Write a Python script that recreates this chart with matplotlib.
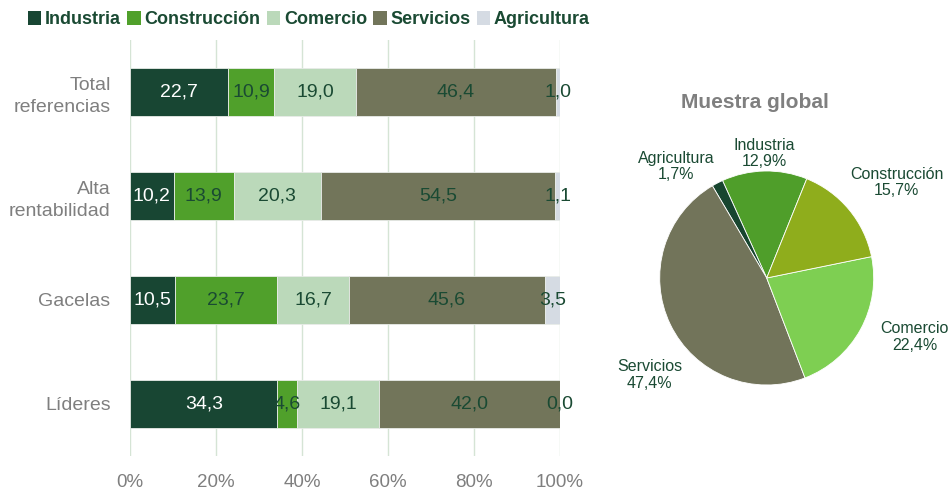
import matplotlib
matplotlib.use("Agg")
import matplotlib.pyplot as plt
import numpy as np
from matplotlib.patches import Patch

plt.rcParams['font.family'] = ['Liberation Sans', 'DejaVu Sans']

# ---- data ----
groups = ["Total\nreferencias", "Alta\nrentabilidad", "Gacelas", "Líderes"]
sectors = ["Industria", "Construcción", "Comercio", "Servicios", "Agricultura"]
industria = [22.7, 10.2, 10.5, 34.3]
construccion = [10.9, 13.9, 23.7, 4.6]
comercio = [19.0, 20.3, 16.7, 19.1]
servicios = [46.4, 54.5, 45.6, 42.0]
agricultura = [1.0, 1.1, 3.5, 0.0]
xticks = [0, 20, 40, 60, 80, 100]
xtick_labels = ["0%", "20%", "40%", "60%", "80%", "100%"]

pie_title = "Muestra global"
pie_labels = ["Industria", "Agricultura", "Servicios", "Comercio", "Construcción"]
pie_values = [12.9, 1.7, 47.4, 22.4, 15.7]

# ---- styles ----
bar_colors = ["#184633", "#50a02b", "#bbd9ba", "#72755a", "#d5dbe3"]
pie_colors = ["#4f9e2a", "#17452f", "#72745a", "#7ecf52", "#8fad1c"]
dark = "#1a4a33"
grey = "#7f7f7f"

fig = plt.figure(figsize=(9.51, 4.93), dpi=100)

# ---- stacked bar ----
ax = fig.add_axes([130 / 951, 37 / 493, 430 / 951, 416 / 493])
series = [industria, construccion, comercio, servicios, agricultura]
y = np.arange(len(groups))
left = np.zeros(len(groups))
for i, vals in enumerate(series):
    vals = np.array(vals)
    ax.barh(y, vals, left=left, height=0.46, color=bar_colors[i],
            edgecolor="#e8ece8", linewidth=0.6, zorder=3)
    for j, v in enumerate(vals):
        txt = f"{v:.1f}".replace(".", ",")
        ax.text(left[j] + v / 2, y[j], txt, ha="center", va="center",
                fontsize=14, color="white" if i == 0 else dark, zorder=4)
    left += vals

ax.set_xlim(0, 100)
ax.set_ylim(len(groups) - 0.5, -0.5)
ax.set_yticks(y)
ax.set_yticklabels(groups, fontsize=14, color=grey, linespacing=1.35)
ax.set_xticks(xticks)
ax.set_xticklabels(xtick_labels, fontsize=13.5, color=grey)
ax.tick_params(axis="both", length=0)
ax.tick_params(axis="x", pad=13)
ax.tick_params(axis="y", pad=14)
for s in ax.spines.values():
    s.set_visible(False)
ax.grid(axis="x", color="#d5e4d5", linewidth=1, zorder=0)
ax.set_axisbelow(True)

# ---- legend ----
handles = [Patch(facecolor=c, edgecolor="none") for c in bar_colors]
leg = fig.legend(handles, sectors, loc="upper left", bbox_to_anchor=(0.012, 1.01),
                 ncol=5, frameon=False, handlelength=0.75, handleheight=0.75,
                 handletextpad=0.2, columnspacing=0.35,
                 prop={"weight": "bold", "size": 13})
for t in leg.get_texts():
    t.set_color(dark)

# ---- pie ----
r_px = 107
cx, cy = 766.7, 493 - 278
pax = fig.add_axes([(cx - r_px) / 951, (cy - r_px) / 493, 2 * r_px / 951, 2 * r_px / 493])
wedges, _ = pax.pie(pie_values, colors=pie_colors, startangle=68, counterclock=True,
                    wedgeprops=dict(linewidth=0.6, edgecolor="white"))
pax.set_xlim(-1, 1)
pax.set_ylim(-1, 1)
pax.set_aspect("equal")
pax.axis("off")

label_pos = {"Industria": (91, 1.16), "Agricultura": (129, 1.34),
             "Servicios": (219.7, 1.42), "Comercio": (-21.7, 1.49),
             "Construcción": (36.4, 1.51)}
for name, val in zip(pie_labels, pie_values):
    ang, rr = label_pos[name]
    a = np.deg2rad(ang)
    pax.text(rr * np.cos(a), rr * np.sin(a),
             f"{name}\n{val:.1f}%".replace(".", ","), ha="center", va="center",
             fontsize=11.5, color=dark, linespacing=1.1, clip_on=False)

fig.text(755 / 951, 1 - 102 / 493, pie_title, ha="center", va="center",
         fontsize=15, fontweight="bold", color=grey)

fig.savefig("out.png", dpi=100)
